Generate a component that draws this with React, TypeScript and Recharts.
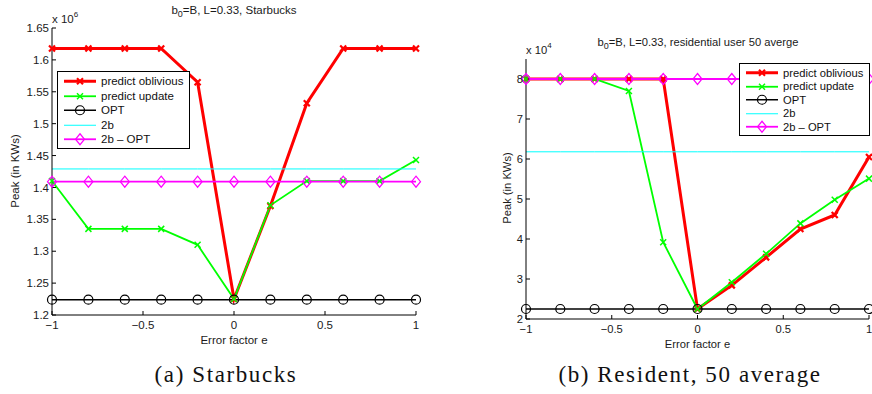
import React from "react";
import { LineChart, Line, XAxis, YAxis, Legend } from "recharts";

// error factor e (shared x values)
const errorFactors = [-1, -0.8, -0.6, -0.4, -0.2, 0, 0.2, 0.4, 0.6, 0.8, 1];

// (a) Starbucks, peak in units of 10^6 KWs
const sbOblivious = [1.618, 1.618, 1.618, 1.618, 1.565, 1.225, 1.371, 1.532, 1.618, 1.618, 1.618];
const sbUpdate = [1.41, 1.335, 1.335, 1.335, 1.31, 1.225, 1.372, 1.41, 1.41, 1.41, 1.443];
const sbOpt = [1.224, 1.224, 1.224, 1.224, 1.224, 1.224, 1.224, 1.224, 1.224, 1.224, 1.224];
const sb2b = [1.429, 1.429, 1.429, 1.429, 1.429, 1.429, 1.429, 1.429, 1.429, 1.429, 1.429];
const sb2bOpt = [1.409, 1.409, 1.409, 1.409, 1.409, 1.409, 1.409, 1.409, 1.409, 1.409, 1.409];
const sbTicks = [1.2, 1.25, 1.3, 1.35, 1.4, 1.45, 1.5, 1.55, 1.6, 1.65];

// (b) Resident, 50 average, peak in units of 10^4 KWs
const resOblivious = [8, 8, 8, 8, 8, 2.25, 2.84, 3.54, 4.25, 4.6, 6.05];
const resUpdate = [8, 8, 8, 7.7, 3.92, 2.25, 2.92, 3.63, 4.39, 4.98, 5.51];
const resOpt = [2.25, 2.25, 2.25, 2.25, 2.25, 2.25, 2.25, 2.25, 2.25, 2.25, 2.25];
const res2b = [6.18, 6.18, 6.18, 6.18, 6.18, 6.18, 6.18, 6.18, 6.18, 6.18, 6.18];
const res2bOpt = [8, 8, 8, 8, 8, 8, 8, 8, 8, 8, 8];
const resTicks = [2, 3, 4, 5, 6, 7, 8];

const xTicks = [-1, -0.5, 0, 0.5, 1];

const buildRows = (obl: number[], upd: number[], opt: number[], b2: number[], b2opt: number[]) =>
  errorFactors.map((e, i) => ({ e, obl: obl[i], upd: upd[i], opt: opt[i], b2: b2[i], b2opt: b2opt[i] }));

const starbucksData = buildRows(sbOblivious, sbUpdate, sbOpt, sb2b, sb2bOpt);
const residentData = buildRows(resOblivious, resUpdate, resOpt, res2b, res2bOpt);

type MarkerKind = "xBold" | "x" | "circle" | "diamond" | "none";

const series: { key: string; name: string; color: string; width: number; marker: MarkerKind }[] = [
  { key: "obl", name: "predict oblivious", color: "#ff0000", width: 3, marker: "xBold" },
  { key: "upd", name: "predict update", color: "#00ff00", width: 1.8, marker: "x" },
  { key: "opt", name: "OPT", color: "#000000", width: 1.5, marker: "circle" },
  { key: "b2", name: "2b", color: "#00ffff", width: 1, marker: "none" },
  { key: "b2opt", name: "2b \u2013 OPT", color: "#ff00ff", width: 1.8, marker: "diamond" },
];

function Marker({ kind, cx, cy, color }: { kind: MarkerKind; cx: number; cy: number; color: string }) {
  if (kind === "xBold" || kind === "x") {
    const s = 3;
    const w = kind === "xBold" ? 2.2 : 1.5;
    return (
      <g stroke={color} strokeWidth={w}>
        <line x1={cx - s} y1={cy - s} x2={cx + s} y2={cy + s} />
        <line x1={cx - s} y1={cy + s} x2={cx + s} y2={cy - s} />
      </g>
    );
  }
  if (kind === "circle") {
    return <circle cx={cx} cy={cy} r={4.5} fill="none" stroke={color} strokeWidth={1.2} />;
  }
  if (kind === "diamond") {
    return (
      <polygon
        points={`${cx},${cy - 5.5} ${cx + 4.5},${cy} ${cx},${cy + 5.5} ${cx - 4.5},${cy}`}
        fill="none"
        stroke={color}
        strokeWidth={1.2}
      />
    );
  }
  return null;
}

const fmtX = (v: number) => (v < 0 ? "\u2212" + Math.abs(v) : String(v));

interface ChartProps {
  data: typeof starbucksData;
  yDomain: [number, number];
  yTicks: number[];
  width: number;
  margin: { top: number; right: number; left: number; bottom: number };
  fontSize: number;
  legendLeft: number;
  legendTop: number;
  rowH: number;
}

function LegendBox({ fontSize, rowH }: { fontSize: number; rowH: number }) {
  return (
    <div style={{ border: "1px solid #000", background: "#fff", padding: "2px 6px 1px 6px", fontSize }}>
      {series.map((s) => (
        <div key={s.key} style={{ display: "flex", alignItems: "center", height: rowH, whiteSpace: "nowrap" }}>
          <svg width={32} height={rowH} style={{ marginRight: 5 }}>
            <line x1={0} x2={32} y1={rowH / 2} y2={rowH / 2} stroke={s.color} strokeWidth={s.width} />
            <Marker kind={s.marker} cx={16} cy={rowH / 2} color={s.color} />
          </svg>
          <span style={{ color: "#111" }}>{s.name}</span>
        </div>
      ))}
    </div>
  );
}

function PeakChart({ data, yDomain, yTicks, width, margin, fontSize, legendLeft, legendTop, rowH }: ChartProps) {
  const tick = { fontSize, fill: "#1a1a1a" };
  return (
    <LineChart width={width} height={350} data={data} margin={margin}>
      <XAxis
        dataKey="e"
        type="number"
        domain={[-1, 1]}
        ticks={xTicks}
        interval={0}
        tickFormatter={fmtX}
        tick={tick}
        tickSize={-4}
        tickMargin={10}
        height={30}
        stroke="#000"
        label={{ value: "Error factor e", position: "insideBottom", offset: 1, fontSize, fill: "#1a1a1a" }}
      />
      <YAxis
        type="number"
        domain={yDomain}
        ticks={yTicks}
        interval={0}
        tick={tick}
        tickSize={-4}
        tickMargin={7}
        width={40}
        stroke="#000"
      />
      <Legend
        layout="vertical"
        align="center"
        verticalAlign="middle"
        wrapperStyle={{ left: legendLeft, top: legendTop, width: "auto" }}
        content={() => <LegendBox fontSize={fontSize} rowH={rowH} />}
      />
      {series.map((s) => (
        <Line
          key={s.key}
          dataKey={s.key}
          name={s.name}
          type="linear"
          stroke={s.color}
          strokeWidth={s.width}
          isAnimationActive={false}
          dot={(p: any) => <Marker key={`${s.key}-${p.index}`} kind={s.marker} cx={p.cx} cy={p.cy} color={s.color} />}
          activeDot={false}
        />
      ))}
    </LineChart>
  );
}

export default function App() {
  const sans = "'Liberation Sans', Arial, Helvetica, sans-serif";
  return (
    <div
      style={{
        position: "absolute",
        left: 0,
        top: 0,
        width: 872,
        height: 394,
        background: "#fff",
        overflow: "hidden",
        fontFamily: sans,
      }}
    >
      <div style={{ position: "absolute", left: 0, top: 0 }}>
        <PeakChart
          data={starbucksData}
          yDomain={[1.2, 1.65]}
          yTicks={sbTicks}
          width={440}
          margin={{ top: 28, right: 24, left: 12, bottom: 5 }}
          fontSize={11.5}
          legendLeft={57}
          legendTop={71}
          rowH={14.5}
        />
      </div>
      <div style={{ position: "absolute", left: 440, top: 0 }}>
        <PeakChart
          data={residentData}
          yDomain={[2, 8.5]}
          yTicks={resTicks}
          width={432}
          margin={{ top: 59, right: 3, left: 46, bottom: 1 }}
          fontSize={11.2}
          legendLeft={299}
          legendTop={63}
          rowH={13.5}
        />
      </div>
      <svg
        width={872}
        height={394}
        style={{ position: "absolute", left: 0, top: 0, pointerEvents: "none" }}
        fontFamily={sans}
        fill="#1a1a1a"
      >
        <text x={234} y={14} fontSize={11.5} textAnchor="middle">
          b<tspan fontSize={9} dy={3}>0</tspan>
          <tspan dy={-3}>=B, L=0.33, Starbucks</tspan>
        </text>
        <text x={52} y={23} fontSize={11.5}>
          x 10<tspan fontSize={8} dy={-6}>6</tspan>
        </text>
        <text x={19} y={171} fontSize={11.5} textAnchor="middle" transform="rotate(-90 19 171)">
          Peak (in KWs)
        </text>

        <text x={698} y={46} fontSize={11.2} textAnchor="middle">
          b<tspan fontSize={9} dy={3}>0</tspan>
          <tspan dy={-3}>=B, L=0.33, residential user 50 averge</tspan>
        </text>
        <text x={526} y={54} fontSize={11.2}>
          x 10<tspan fontSize={8} dy={-6}>4</tspan>
        </text>
        <text x={511} y={188} fontSize={11.2} textAnchor="middle" transform="rotate(-90 511 188)">
          Peak (in KWs)
        </text>

        <g fontFamily="'Liberation Serif', 'Times New Roman', serif" fontSize={23} fill="#111" letterSpacing={1.6}>
          <text x={226} y={382} textAnchor="middle">(a) Starbucks</text>
          <text x={690} y={382} textAnchor="middle">(b) Resident, 50 average</text>
        </g>
      </svg>
    </div>
  );
}
